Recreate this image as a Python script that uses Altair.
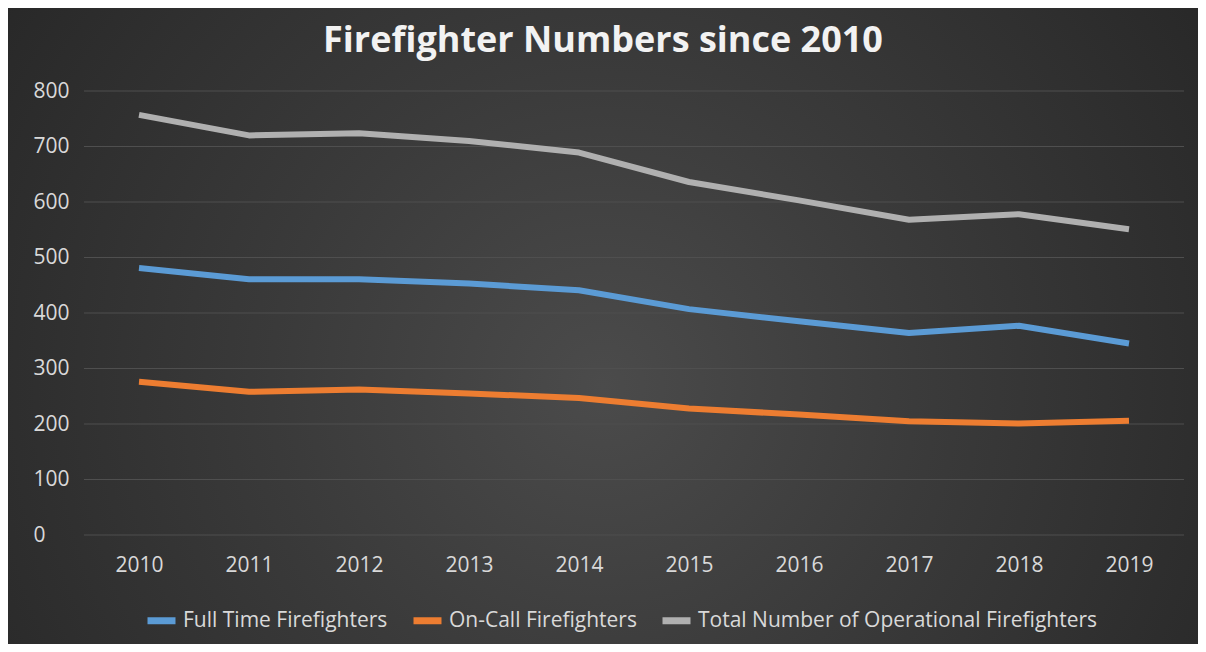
import altair as alt
import pandas as pd

years = ["2010", "2011", "2012", "2013", "2014", "2015", "2016", "2017", "2018", "2019"]
full_time = [481, 461, 461, 453, 441, 407, 385, 364, 377, 345]
on_call = [276, 258, 262, 255, 247, 228, 217, 205, 201, 206]
total = [757, 720, 724, 710, 689, 636, 603, 568, 578, 551]
series_names = ["Full Time Firefighters", "On-Call Firefighters",
                "Total Number of Operational Firefighters"]
series_colors = ["#5B9BD5", "#ED7D31", "#B0B0B0"]
y_ticks = [0, 100, 200, 300, 400, 500, 600, 700, 800]

rows = []
for name, vals in zip(series_names, [full_time, on_call, total]):
    for yr, v in zip(years, vals):
        rows.append({"year": yr, "series": name, "value": v})
df = pd.DataFrame(rows)
grid_df = pd.DataFrame({"value": y_ticks})

W, H = 1100, 444
PL, PT, PR, PB = 76, 83, 14, 109
FONT = "Open Sans"
LABEL = "#d9d9d9"

y_enc = alt.Y(
    "value:Q",
    scale=alt.Scale(domain=[0, 800], nice=False, zero=True),
    axis=alt.Axis(values=y_ticks, grid=False, domain=False, ticks=False, tickSize=0,
                  labelAlign="left", labelPadding=51, labelFontSize=21,
                  labelColor=LABEL, labelFont=FONT, title=None, zindex=1,
                  labelBaseline="middle"),
)

bg = alt.Chart(pd.DataFrame({"k": [0]})).mark_rect(
    fill=alt.RadialGradient(
        gradient="radial",
        stops=[alt.GradientStop(color="#4b4b4b", offset=0),
               alt.GradientStop(color="#3a3a3a", offset=0.45),
               alt.GradientStop(color="#272727", offset=1)],
        x1=0.5, y1=0.55, r1=0, x2=0.5, y2=0.55, r2=0.62,
    )
).encode(x=alt.value(-PL), x2=alt.value(W + PR), y=alt.value(-PT), y2=alt.value(H + PB))

grid = alt.Chart(grid_df).mark_rule(color="#4f4f4f", strokeWidth=1).encode(y=y_enc)

lines = alt.Chart(df).mark_line(strokeWidth=6, strokeCap="butt", strokeJoin="round").encode(
    x=alt.X("year:O", scale=alt.Scale(padding=0.5),
            axis=alt.Axis(labelAngle=0, domain=False, ticks=False, tickSize=0,
                          labelPadding=30, labelBaseline="middle", labelFontSize=21,
                          labelColor=LABEL, labelFont=FONT, title=None, zindex=1,
                          grid=False)),
    y=y_enc,
    color=alt.Color("series:N",
                    scale=alt.Scale(domain=series_names, range=series_colors),
                    legend=alt.Legend(orient="none", legendX=60, legendY=512,
                                      direction="horizontal", title=None,
                                      symbolType="stroke", symbolSize=784,
                                      symbolStrokeWidth=7, labelFontSize=21,
                                      labelColor=LABEL, labelFont=FONT,
                                      labelOffset=4, columnPadding=11,
                                      labelLimit=800)),
)

chart = alt.layer(bg, grid, lines).properties(
    width=W, height=H,
    title=alt.Title("Firefighter Numbers since 2010", fontSize=36, font=FONT,
                    fontWeight="bold", color="#f2f2f2", anchor="middle",
                    frame="bounds", offset=-52),
    padding={"left": PL, "top": PT, "right": PR, "bottom": PB},
    autosize=alt.AutoSizeParams(type="none"),
    background="#2b2b2b",
).configure_view(stroke=None)

chart.save("out.html", embed_options={"renderer": "svg", "actions": False})
